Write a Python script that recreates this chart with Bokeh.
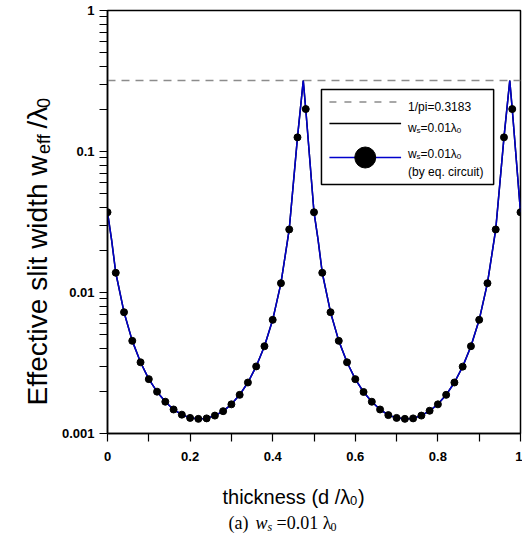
import math
from bokeh.plotting import figure
from bokeh.models import Range1d, FixedTicker, CustomJSTickFormatter, Label
from bokeh.layouts import row, column
from bokeh.embed import file_html
from bokeh.resources import INLINE

# ---------------- data ----------------
dot_x = [0.00, 0.02, 0.04, 0.06, 0.08, 0.10, 0.12, 0.14, 0.16, 0.18,
         0.20, 0.22, 0.24, 0.26, 0.28, 0.30, 0.32, 0.34, 0.36, 0.38,
         0.40, 0.42, 0.44, 0.46, 0.48, 0.50, 0.52, 0.54, 0.56, 0.58,
         0.60, 0.62, 0.64, 0.66, 0.68, 0.70, 0.72, 0.74, 0.76, 0.78,
         0.80, 0.82, 0.84, 0.86, 0.88, 0.90, 0.92, 0.94, 0.96, 0.98, 1.00]
dot_y = [0.0371, 0.0138, 0.00725, 0.00454, 0.00320, 0.00243, 0.00198, 0.00168, 0.00148, 0.00136,
         0.00129, 0.00127, 0.00128, 0.00134, 0.00144, 0.00161, 0.00188, 0.00230, 0.00299, 0.00416,
         0.00640, 0.01164, 0.0280, 0.126, 0.200, 0.0371, 0.0138, 0.00725, 0.00454, 0.00320,
         0.00243, 0.00197, 0.00168, 0.00148, 0.00135, 0.00129, 0.00127, 0.00128, 0.00134, 0.00145,
         0.00161, 0.00188, 0.00230, 0.00298, 0.00416, 0.00640, 0.01164, 0.0280, 0.126, 0.200, 0.0371]

# continuous curve (same samples plus the two resonance peaks)
line_x = [0.00, 0.01, 0.02, 0.04, 0.06, 0.08, 0.10, 0.12, 0.14, 0.16, 0.18,
          0.20, 0.22, 0.24, 0.26, 0.28, 0.30, 0.32, 0.34, 0.36, 0.38,
          0.40, 0.42, 0.44, 0.46, 0.474, 0.48, 0.50, 0.51, 0.52, 0.54, 0.56, 0.58,
          0.60, 0.62, 0.64, 0.66, 0.68, 0.70, 0.72, 0.74, 0.76, 0.78,
          0.80, 0.82, 0.84, 0.86, 0.88, 0.90, 0.92, 0.94, 0.96, 0.974, 0.98, 1.00]
line_y = [0.0371, 0.0235, 0.0138, 0.00725, 0.00454, 0.00320, 0.00243, 0.00198, 0.00168, 0.00148, 0.00136,
          0.00129, 0.00127, 0.00128, 0.00134, 0.00144, 0.00161, 0.00188, 0.00230, 0.00299, 0.00416,
          0.00640, 0.01164, 0.0280, 0.126, 0.3183, 0.200, 0.0371, 0.0235, 0.0138, 0.00725, 0.00454, 0.00320,
          0.00243, 0.00197, 0.00168, 0.00148, 0.00135, 0.00129, 0.00127, 0.00128, 0.00134, 0.00145,
          0.00161, 0.00188, 0.00230, 0.00298, 0.00416, 0.00640, 0.01164, 0.0280, 0.126, 0.3183, 0.200, 0.0371]

limit_value = 0.3183
x_ticks = [0.0, 0.2, 0.4, 0.6, 0.8, 1.0]
x_minor = [0.1, 0.3, 0.5, 0.7, 0.9]
y_ticks = [0.001, 0.01, 0.1, 1.0]
y_minor = [0.002, 0.003, 0.004, 0.005, 0.006, 0.007, 0.008, 0.009,
           0.02, 0.03, 0.04, 0.05, 0.06, 0.07, 0.08, 0.09,
           0.2, 0.3, 0.4, 0.5, 0.6, 0.7, 0.8, 0.9]

# ---------------- page geometry (page pixels) ----------------
PW, PH = 522, 542
LEFTW = 58            # strip holding the y title
SPLIT = 475           # height of the plot row; caption strip below
FL, FR, FT, FB = 105.0, 520.0, 10.0, 433.0   # plot frame

SANS = "Liberation Sans"
SERIF = "Liberation Serif"

def X(px):
    return (px - FL) / (FR - FL)

def Y(py):
    return 10 ** (-(py - FT) / ((FB - FT) / 3.0))

# ---------------- main figure ----------------
p = figure(width=PW - LEFTW, height=SPLIT, x_range=Range1d(0, 1), y_range=Range1d(0.001, 1),
           y_axis_type="log", output_backend="svg", toolbar_location=None,
           min_border_left=int(FL - LEFTW), min_border_right=int(PW - FR),
           min_border_top=int(FT), min_border_bottom=int(SPLIT - FB))
p.xgrid.visible = False
p.ygrid.visible = False
p.outline_line_color = "black"
p.outline_line_width = 1.5
p.outline_line_alpha = 1.0

for ax in (p.xaxis[0], p.yaxis[0]):
    ax.axis_line_width = 1.5
    ax.axis_line_color = "black"
    ax.major_tick_out = 8
    ax.major_tick_in = 0
    ax.minor_tick_out = 8
    ax.minor_tick_in = 0
    ax.major_tick_line_width = 1.2
    ax.minor_tick_line_width = 1.2
    ax.major_tick_line_color = "black"
    ax.minor_tick_line_color = "black"
    ax.major_label_text_font = SANS
    ax.major_label_text_font_style = "bold"
    ax.major_label_text_font_size = "13px"
    ax.major_label_text_color = "black"

p.xaxis.ticker = FixedTicker(ticks=x_ticks, minor_ticks=x_minor)
p.xaxis.formatter = CustomJSTickFormatter(code="return String(Math.round(tick*10)/10);")
p.xaxis.major_label_standoff = 10
p.yaxis.ticker = FixedTicker(ticks=y_ticks, minor_ticks=y_minor)
p.yaxis.formatter = CustomJSTickFormatter(code="return String(Number(tick.toPrecision(3)));")
p.yaxis.major_label_standoff = 5

p.line([0, 1], [limit_value, limit_value], line_color="#8c8c8c", line_width=1.5, line_dash="8 6")
p.line(line_x, line_y, line_color="black", line_width=1.5)
p.line(line_x, line_y, line_color="#0000cc", line_width=1.5)
p.scatter(dot_x, dot_y, size=7, color="black")

# legend drawn by hand
LX0, LX1, LY0, LY1 = 320, 493, 89, 184
p.quad(left=[X(LX0)], right=[X(LX1)], top=[Y(LY0)], bottom=[Y(LY1)],
       fill_color="white", line_color="black", line_width=1.5)
p.line([X(328), X(400)], [Y(101.5), Y(101.5)], line_color="#8c8c8c", line_width=1.5, line_dash="7 8")
p.line([X(328), X(400)], [Y(123), Y(123)], line_color="black", line_width=1.5)
p.line([X(328), X(400)], [Y(157), Y(157)], line_color="#0000cc", line_width=1.5)
p.scatter([X(364)], [Y(157)], size=21, color="black")

def lab(fig, x, y, text, size, font=SANS, style="normal", angle=0.0):
    fig.add_layout(Label(x=x, y=y, text=text, text_font=font, text_font_size=f"{size}px",
                         text_font_style=style, text_color="black", angle=angle,
                         text_baseline="alphabetic", text_align="left"))

def mlab(px, py, text, size, **kw):
    lab(p, X(px), Y(py), text, size, **kw)

mlab(407, 106, "1/pi=0.3183", 12)
mlab(407, 127, "w", 12)
mlab(415.5, 130, "s", 8)
mlab(419.5, 127, "=0.01λ", 12)
mlab(456, 130, "0", 8)
mlab(407, 153, "w", 12)
mlab(415.5, 156, "s", 8)
mlab(419.5, 153, "=0.01λ", 12)
mlab(456, 156, "0", 8)
mlab(407, 171, "(by eq. circuit)", 12)

# ---------------- helper strips for titles (page-pixel coordinates) ----------------
def strip(w, h, x0, x1, y0, y1, bl, br, bt, bb):
    f = figure(width=w, height=h, x_range=Range1d(x0, x1), y_range=Range1d(y1, y0),
               output_backend="svg", toolbar_location=None, title=None,
               x_axis_location=None, y_axis_location=None,
               min_border_left=bl, min_border_right=br, min_border_top=bt, min_border_bottom=bb)
    f.outline_line_color = None
    f.xgrid.visible = False
    f.ygrid.visible = False
    return f

# left strip: same vertical borders as the main plot, so its frame is page y 10..433
fl = strip(LEFTW, SPLIT, 0, LEFTW, FT, FB, 0, 0, int(FT), int(SPLIT - FB))
YT = 37
lab(fl, YT, 405, "Effective slit width w", 28, angle=math.pi / 2)
lab(fl, YT + 6, 153.5, "eff", 18, angle=math.pi / 2)
lab(fl, YT, 128, "/λ", 28, angle=math.pi / 2)
lab(fl, YT + 6, 107.5, "0", 18, angle=math.pi / 2)

# bottom strip: same horizontal borders as the main plot, so its frame is page x 105..520
fb = strip(PW, PH - SPLIT, FL, FR, SPLIT, PH, int(FL), int(PW - FR), 0, 0)
lab(fb, 222, 496, "thickness (d /λ", 20)
lab(fb, 349.5, 500, "0", 13)
lab(fb, 357.5, 496, ")", 20)
lab(fb, 228, 522, "(a)", 18, font=SERIF)
lab(fb, 255, 522, "w", 18, font=SERIF, style="italic")
lab(fb, 267, 526, "s", 12, font=SERIF, style="italic")
lab(fb, 276, 522, "=0.01 λ", 18, font=SERIF)
lab(fb, 330, 526, "0", 12, font=SERIF)

layout = column(row(fl, p), fb)
open("out.html", "w").write(file_html(layout, INLINE))
